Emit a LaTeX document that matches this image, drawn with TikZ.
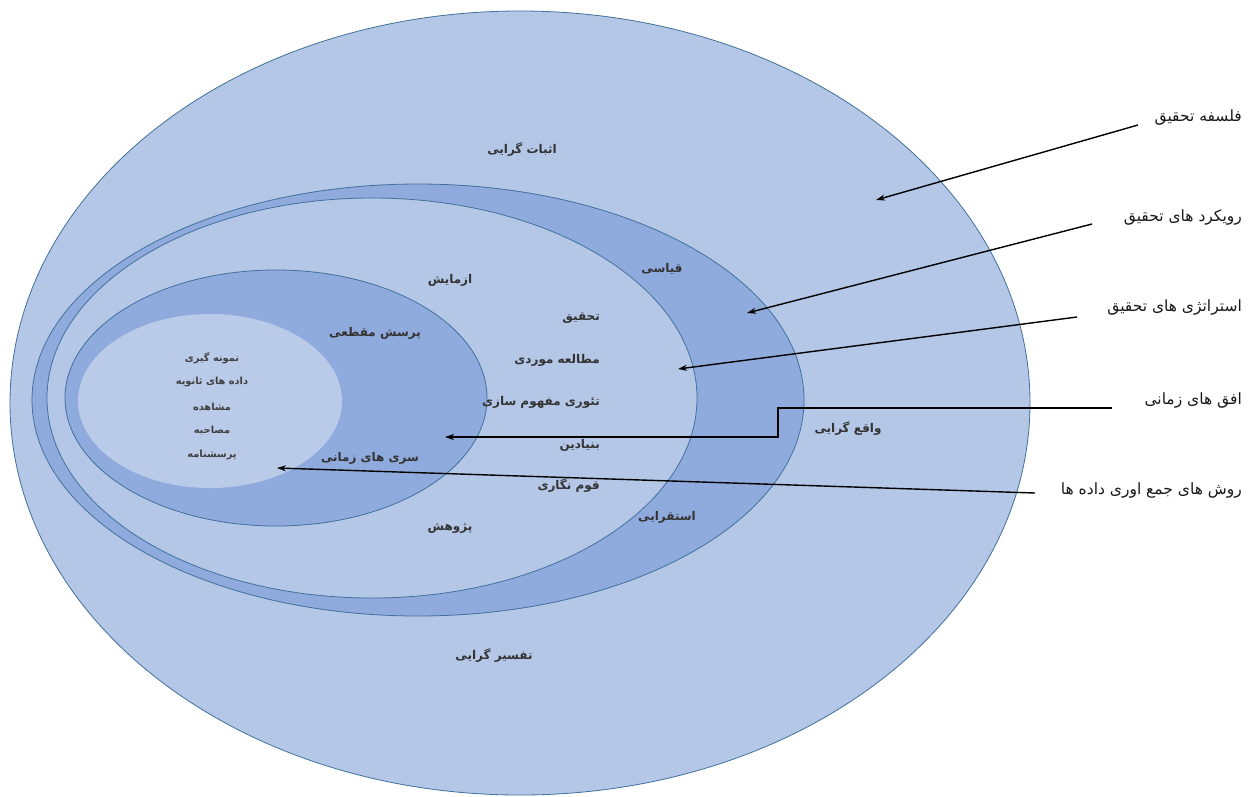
\documentclass[tikz,border=0pt]{standalone}
\usepackage{fontspec}
\TeXXeTstate=1
\newfontfamily\fa[Script=Arabic]{DejaVu Sans}
\usetikzlibrary{arrows.meta}
\definecolor{onionlight}{HTML}{B4C7E7}
\definecolor{oniondark}{HTML}{8FAADC}
\definecolor{onioninner}{HTML}{B9CBE9}
\definecolor{onionline}{HTML}{41719C}
\newcommand{\rl}[1]{\beginR #1\endR}
\begin{document}
\begin{tikzpicture}[x=1pt,y=-1pt,
  ring/.style={draw=onionline, line width=0.8pt},
  lbl/.style={font=\fa\bfseries\fontsize{12}{14}\selectfont, inner sep=0pt, text=black!80},
  sidelbl/.style={font=\fa\fontsize{15.5}{17}\selectfont, inner sep=0pt, text=black!90, anchor=east},
  smalllbl/.style={font=\fa\bfseries\fontsize{9.8}{12}\selectfont, inner sep=0pt, text=black!75},
  pointer/.style={-{Stealth[length=9pt,width=6pt]}, line width=1.4pt, black}]
\useasboundingbox (0,0) rectangle (1252,796);
\fill[white] (0,0) rectangle (1252,796);
% onion layers
\filldraw[ring, fill=onionlight] (520,403) ellipse [x radius=510, y radius=392];
\filldraw[ring, fill=oniondark] (418,400) ellipse [x radius=386, y radius=216];
\filldraw[ring, fill=onionlight] (372,398) ellipse [x radius=325, y radius=200];
\filldraw[ring, fill=oniondark] (276,398) ellipse [x radius=211, y radius=128];
\fill[onioninner] (210,401) ellipse [x radius=132, y radius=87];
% philosophy
\node[lbl] (pos) at (522,150) {\rl{اثبات گرایی}};
\node[lbl] (int) at (494,655) {\rl{تفسیر گرایی}};
\node[lbl] (rea) at (848,428) {\rl{واقع گرایی}};
% approaches
\node[lbl] (ded) at (662,269) {\rl{قیاسی}};
\node[lbl] (ind) at (667,517) {\rl{استقرایی}};
% strategies
\node[lbl] (exp) at (450,280) {\rl{ازمایش}};
\node[lbl] (sur) at (450,528) {\rl{پژوهش}};
\node[lbl, anchor=east] (act) at (600,318) {\rl{تحقیق}};
\node[lbl, anchor=east] (cas) at (600,360) {\rl{مطالعه موردی}};
\node[lbl, anchor=east] (gro) at (600,402) {\rl{تئوری مفهوم سازی}};
\node[lbl, anchor=east] (gro2) at (600,445) {\rl{بنیادین}};
\node[lbl, anchor=east] (eth) at (600,485) {\rl{قوم نگاری}};
% time horizons
\node[lbl] (cro) at (375,333) {\rl{پرسش مقطعی}};
\node[lbl] (lon) at (370,458) {\rl{سری های زمانی}};
% data collection
\node[smalllbl] (d1) at (212,358) {\rl{نمونه گیری}};
\node[smalllbl] (d2) at (212,382) {\rl{داده های ثانویه}};
\node[smalllbl] (d3) at (212,407) {\rl{مشاهده}};
\node[smalllbl] (d4) at (212,431) {\rl{مصاحبه}};
\node[smalllbl] (d5) at (212,455) {\rl{پرسشنامه}};
% side labels
\node[sidelbl] (L1) at (1242,118) {\rl{فلسفه تحقیق}};
\node[sidelbl] (L2) at (1242,217) {\rl{رویکرد های تحقیق}};
\node[sidelbl] (L3) at (1242,307) {\rl{استراتژی های تحقیق}};
\node[sidelbl] (L4) at (1242,400) {\rl{افق های زمانی}};
\node[sidelbl] (L5) at (1242,490) {\rl{روش های جمع اوری داده ها}};
% connector coordinates
\coordinate (s1) at (1138,125); \coordinate (e1) at (876,200);
\coordinate (s2) at (1092,224); \coordinate (e2) at (747,313);
\coordinate (s3) at (1077,317); \coordinate (e3) at (678,369);
\coordinate (s4) at (1112,408); \coordinate (b4) at (778,408);
\coordinate (b4b) at (778,437); \coordinate (e4) at (445,437);
\coordinate (s5) at (1035,493); \coordinate (e5) at (277,468);
\draw[pointer] (s1) -- (e1);
\draw[pointer] (s2) -- (e2);
\draw[pointer] (s3) -- (e3);
\draw[pointer] (s4) -- (b4) -- (b4b) -- (e4);
\draw[pointer] (s5) -- (e5);
\end{tikzpicture}
\end{document}
